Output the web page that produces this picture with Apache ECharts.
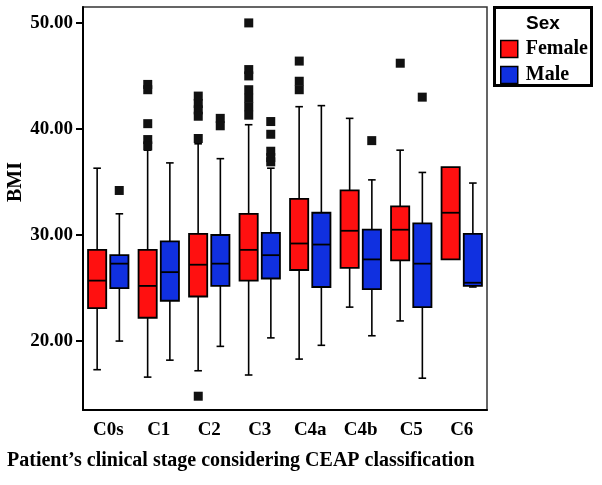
<!DOCTYPE html>
<html><head><meta charset="utf-8">
<script src="https://cdn.jsdelivr.net/npm/echarts@6/dist/echarts.min.js"></script>
<style>html,body{margin:0;padding:0;background:#fff}#c{width:602px;height:485px}</style>
</head><body><div id="c"></div>
<script>
const categories = ['C0s','C1','C2','C3','C4a','C4b','C5','C6'];
// [min, Q1, median, Q3, max]
const femaleBoxes = [
  [17.3, 23.1, 25.7, 28.6, 36.3],
  [16.6, 22.2, 25.2, 28.6, 38.0],
  [17.2, 24.2, 27.2, 30.1, 38.6],
  [16.8, 25.7, 28.6, 32.0, 40.4],
  [18.3, 26.7, 29.2, 33.4, 42.1],
  [23.2, 26.9, 30.4, 34.2, 41.0],
  [21.9, 27.6, 30.5, 32.7, 38.0],
  [27.7, 27.7, 32.1, 36.4, 36.4]
];
const maleBoxes = [
  [20.0, 25.0, 27.3, 28.1, 32.0],
  [18.2, 23.8, 26.5, 29.4, 36.8],
  [19.5, 25.2, 27.3, 30.0, 37.2],
  [20.3, 25.9, 28.1, 30.2, 36.3],
  [19.6, 25.1, 29.1, 32.1, 42.2],
  [20.5, 24.9, 27.7, 30.5, 35.2],
  [16.5, 23.2, 27.3, 31.1, 35.9],
  [25.1, 25.2, 25.5, 30.1, 34.9]
];
// [category index, value]
const femaleOutliers = [
  [1,44.2],[1,43.7],[1,40.5],[1,39.0],[1,38.4],
  [2,43.1],[2,42.4],[2,41.8],[2,41.2],[2,39.1],[2,14.8],
  [3,50.0],[3,45.6],[3,45.0],[3,43.7],[3,42.9],[3,42.1],[3,41.3],
  [4,46.4],[4,44.5],[4,43.7],
  [6,46.2]
];
const maleOutliers = [
  [0,34.2],
  [2,41.0],[2,40.3],
  [3,40.7],[3,39.5],[3,37.9],[3,37.3],[3,36.9],
  [5,38.9],
  [6,43.0]
];
const yTicks = [20, 30, 40, 50];

const RED = '#ff1010', BLUE = '#1030e0';
const SERIF = '"Liberation Serif", "Times New Roman", serif';

function boxRenderer(side) {
  return function (params, api) {
    const cat = api.value(0);
    const bw = api.size([1, 0])[0];
    const off = side * bw * 0.22;
    const half = bw * 0.18;
    const cap = bw * 0.075;
    const pMin = api.coord([cat, api.value(1)]);
    const pQ1 = api.coord([cat, api.value(2)]);
    const pMed = api.coord([cat, api.value(3)]);
    const pQ3 = api.coord([cat, api.value(4)]);
    const pMax = api.coord([cat, api.value(5)]);
    const x = pMed[0] + off;
    const ls = {stroke: '#000', lineWidth: 1.6};
    const ch = [];
    if (pMax[1] < pQ3[1] - 0.5) {
      ch.push({type: 'line', shape: {x1: x, y1: pMax[1], x2: x, y2: pQ3[1]}, style: ls});
      ch.push({type: 'line', shape: {x1: x - cap, y1: pMax[1], x2: x + cap, y2: pMax[1]}, style: ls});
    }
    if (pMin[1] > pQ1[1] + 0.5) {
      ch.push({type: 'line', shape: {x1: x, y1: pQ1[1], x2: x, y2: pMin[1]}, style: ls});
      ch.push({type: 'line', shape: {x1: x - cap, y1: pMin[1], x2: x + cap, y2: pMin[1]}, style: ls});
    }
    ch.push({type: 'rect', shape: {x: x - half, y: pQ3[1], width: half * 2, height: pQ1[1] - pQ3[1]},
      style: {fill: api.visual('color'), stroke: '#000', lineWidth: 1.8}});
    ch.push({type: 'line', shape: {x1: x - half, y1: pMed[1], x2: x + half, y2: pMed[1]}, style: {stroke: '#000', lineWidth: 1.8}});
    return {type: 'group', children: ch};
  };
}

const chart = echarts.init(document.getElementById('c'), null, {renderer: 'canvas'});
chart.setOption({
  animation: false,
  backgroundColor: '#fff',
  grid: {left: 83, right: 115, top: 7, bottom: 75, show: true, borderColor: '#333', borderWidth: 1.5},
  xAxis: {
    type: 'category', data: categories,
    axisLine: {lineStyle: {color: '#000', width: 2}},
    axisTick: {alignWithLabel: true, length: 7, lineStyle: {color: '#000', width: 2}},
    axisLabel: {color: '#000', fontFamily: SERIF, fontWeight: 'bold', fontSize: 19, margin: 11}
  },
  yAxis: {
    type: 'value', min: 13.5, max: 51.5,
    splitLine: {show: false},
    axisLine: {show: true, lineStyle: {color: '#000', width: 2}},
    axisTick: {show: true, length: 7, customValues: yTicks, lineStyle: {color: '#000', width: 2}},
    axisLabel: {customValues: yTicks, color: '#000', fontFamily: SERIF, fontWeight: 'bold', fontSize: 19, margin: 10,
      formatter: v => v.toFixed(2)}
  },
  legend: {
    data: ['Female', 'Male'], orient: 'vertical', left: 500, top: 39, padding: 0,
    icon: 'rect', itemWidth: 17, itemHeight: 17, itemGap: 6,
    itemStyle: {borderColor: '#000', borderWidth: 1.5},
    textStyle: {color: '#000', fontFamily: SERIF, fontWeight: 'bold', fontSize: 20, lineHeight: 17, padding: [0, 0, 0, 3]}
  },
  graphic: [
    {type: 'rect', shape: {x: 494.5, y: 7.5, width: 97, height: 78}, style: {fill: 'none', stroke: '#000', lineWidth: 3}},
    {type: 'text', x: 543, y: 24, style: {text: 'Sex', fill: '#000', font: 'bold 19px "Liberation Sans", Arial, sans-serif', align: 'center', verticalAlign: 'middle'}},
    {type: 'text', x: 16, y: 182, rotation: Math.PI / 2, style: {text: 'BMI', fill: '#000', font: 'bold 20px ' + SERIF, align: 'center', verticalAlign: 'middle'}},
    {type: 'text', x: 7, y: 461, style: {text: 'Patient\u2019s clinical stage considering CEAP classification', fill: '#000', font: 'bold 20px ' + SERIF, align: 'left', verticalAlign: 'middle'}}
  ],
  series: [
    {name: 'Female', type: 'custom', renderItem: boxRenderer(-1), itemStyle: {color: RED},
      encode: {x: 0, y: [1, 2, 3, 4, 5]},
      data: femaleBoxes.map((b, i) => [i].concat(b))},
    {name: 'Male', type: 'custom', renderItem: boxRenderer(1), itemStyle: {color: BLUE},
      encode: {x: 0, y: [1, 2, 3, 4, 5]},
      data: maleBoxes.map((b, i) => [i].concat(b))},
    {name: 'Female outliers', type: 'scatter', symbol: 'rect', symbolSize: 9, symbolOffset: [-11, 0],
      itemStyle: {color: '#111', opacity: 1}, data: femaleOutliers},
    {name: 'Male outliers', type: 'scatter', symbol: 'rect', symbolSize: 9, symbolOffset: [11, 0],
      itemStyle: {color: '#111', opacity: 1}, data: maleOutliers}
  ]
});
</script></body></html>
